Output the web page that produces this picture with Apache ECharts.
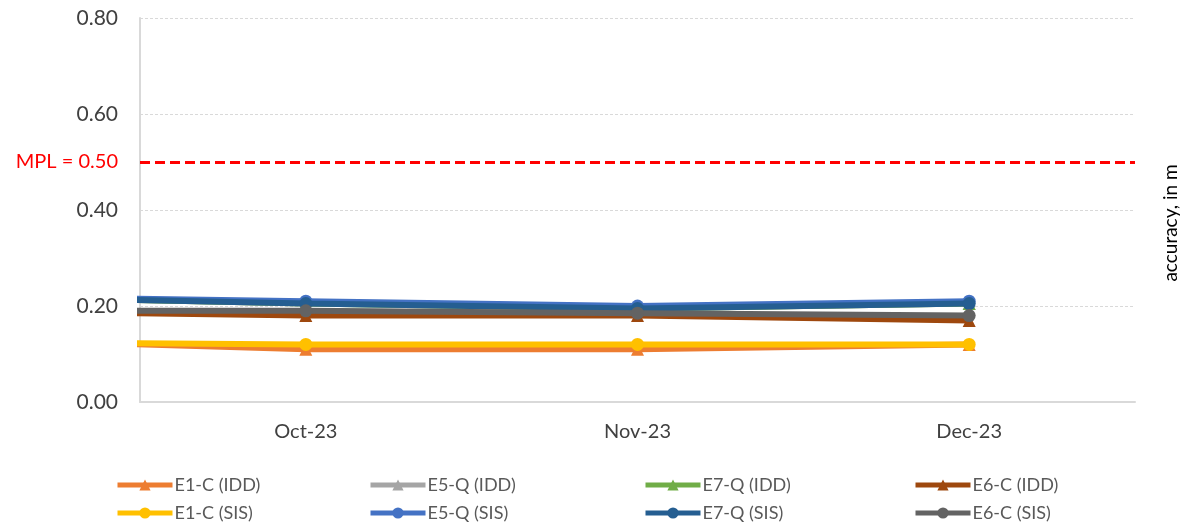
<!DOCTYPE html>
<html>
<head>
<meta charset="utf-8">
<script src="https://cdn.jsdelivr.net/npm/echarts@6/dist/echarts.min.js"></script>
<style>
html, body { margin: 0; padding: 0; background: #fff; }
#main { width: 1189px; height: 528px; }
</style>
</head>
<body>
<div id="main"></div>
<script>
// months shown on the axis; the first value of each series is the month before (Sep-23), cut off at the left edge
var months = ['Oct-23', 'Nov-23', 'Dec-23']
var monthPos = [-0.5, 0.5, 1.5, 2.5]

var e1cIdd = [0.13, 0.11, 0.11, 0.12]
var e5qIdd = [0.22, 0.205, 0.195, 0.205]
var e7qIdd = [0.22, 0.205, 0.195, 0.205]
var e6cIdd = [0.19, 0.18, 0.18, 0.17]
var e1cSis = [0.125, 0.12, 0.12, 0.12]
var e5qSis = [0.22, 0.21, 0.20, 0.21]
var e7qSis = [0.22, 0.205, 0.195, 0.205]
var e6cSis = [0.19, 0.19, 0.185, 0.18]

var mpl = 0.5

var names = ['E1-C (IDD)', 'E5-Q (IDD)', 'E7-Q (IDD)', 'E6-C (IDD)',
             'E1-C (SIS)', 'E5-Q (SIS)', 'E7-Q (SIS)', 'E6-C (SIS)']
var values = [e1cIdd, e5qIdd, e7qIdd, e6cIdd, e1cSis, e5qSis, e7qSis, e6cSis]
var colors = ['#ED7D31', '#A5A5A5', '#70AD47', '#9E480E',
              '#FFC000', '#4472C4', '#255E91', '#636363']

var font = 'Lato'

function pairs(arr) {
    var out = []
    for (var i = 0; i < arr.length; i++) {
        out.push([monthPos[i], arr[i]])
    }
    return out
}

var series = []
for (var i = 0; i < names.length; i++) {
    var isIdd = i < 4
    var s = {
        name: names[i],
        type: 'line',
        xAxisIndex: 1,
        data: pairs(values[i]),
        symbol: isIdd ? 'triangle' : 'circle',
        symbolSize: 13,
        showAllSymbol: true,
        clip: true,
        color: colors[i],
        lineStyle: { width: 6, color: colors[i] },
        itemStyle: { color: colors[i] },
        emphasis: { disabled: true },
        z: 2 + i
    }
    if (i == 0) {
        s.markLine = {
            symbol: 'none',
            silent: true,
            data: [{ yAxis: mpl }],
            lineStyle: { color: '#FF0000', type: [10, 5], width: 3 },
            label: {
                show: true,
                position: 'start',
                distance: 22,
                formatter: 'MPL = 0.50',
                color: '#FF0000',
                fontFamily: font,
                fontSize: 20
            }
        }
    }
    series.push(s)
}

// one legend per item so the 4 x 2 grid sits where it does in the original
var legendLeft = [115, 368, 643, 913]
var legendTop = [476, 504]
var legends = []
for (var i = 0; i < names.length; i++) {
    legends.push({
        data: [names[i]],
        orient: 'horizontal',
        left: legendLeft[i % 4],
        top: legendTop[Math.floor(i / 4)],
        itemWidth: 55,
        itemHeight: 14,
        itemGap: 0,
        padding: 0,
        lineStyle: { width: 5 },
        textStyle: { color: '#595959', fontFamily: font, fontSize: 18, padding: [0, 0, 0, -3] }
    })
}

var myChart = echarts.init(document.getElementById('main'))
var option = {
    animation: false,
    backgroundColor: '#fff',
    grid: { left: 140, right: 54, top: 18, bottom: 126 },
    legend: legends,
    xAxis: [
        {
            type: 'category',
            data: months,
            boundaryGap: true,
            axisTick: { show: false },
            axisLine: { lineStyle: { color: '#d9d9d9', width: 2 } },
            axisLabel: { color: '#404040', fontFamily: font, fontSize: 20, margin: 20 },
            splitLine: { show: false }
        },
        {
            type: 'value',
            min: 0,
            max: 3,
            show: false
        }
    ],
    yAxis: [
        {
            type: 'value',
            min: 0,
            max: 0.8,
            interval: 0.2,
            position: 'left',
            axisLine: { show: true, lineStyle: { color: '#d9d9d9', width: 2 } },
            axisTick: { show: false },
            axisLabel: {
                color: '#404040', fontFamily: font, fontSize: 21, margin: 22,
                formatter: function (v) { return v.toFixed(2) }
            },
            splitLine: { lineStyle: { color: '#d9d9d9', type: [3, 2], width: 1 } }
        },
        {
            // only here to carry the axis title on the right
            type: 'value',
            min: 0,
            max: 0.8,
            interval: 0.2,
            position: 'right',
            axisLine: { show: false },
            axisTick: { show: false },
            axisLabel: { show: false },
            splitLine: { show: false },
            name: 'accuracy, in m',
            nameLocation: 'middle',
            nameRotate: 90,
            nameGap: 26,
            nameTextStyle: { color: '#000', fontFamily: font, fontSize: 19, padding: [0, 26, 0, 0] }
        }
    ],
    series: series
}
myChart.setOption(option)
</script>
</body>
</html>
